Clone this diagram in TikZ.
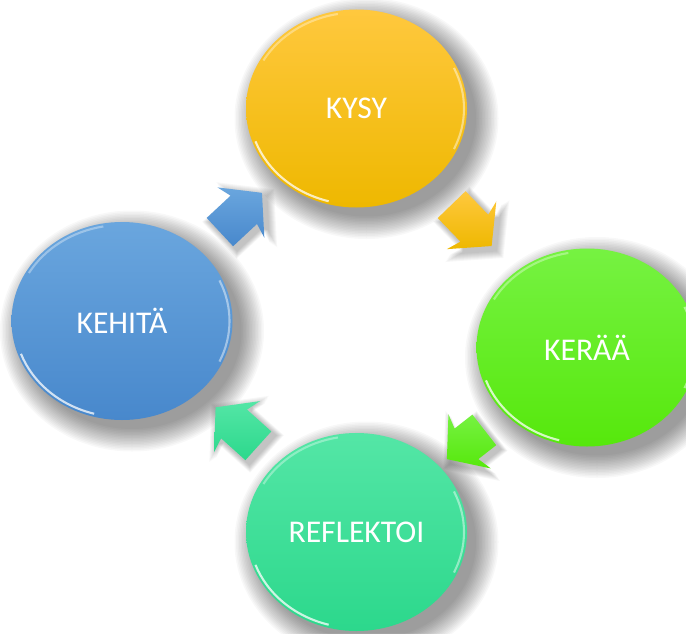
\documentclass[tikz,border=0pt]{standalone}
\usepackage{fontspec}
\setmainfont{Carlito}
\usepackage{xcolor}
\usetikzlibrary{shapes.geometric,shapes.arrows,calc}

\definecolor{kysyTop}{RGB}{255,200,62}
\definecolor{kysyBot}{RGB}{238,184,0}
\definecolor{keraaTop}{RGB}{118,242,66}
\definecolor{keraaBot}{RGB}{86,232,12}
\definecolor{reflTop}{RGB}{84,230,166}
\definecolor{reflBot}{RGB}{44,216,140}
\definecolor{kehitaTop}{RGB}{106,166,222}
\definecolor{kehitaBot}{RGB}{72,136,204}

\pgfdeclarelayer{background}
\pgfsetlayers{background,main}

\begin{document}
\begin{tikzpicture}[
  phase/.style={ellipse, inner sep=0pt, minimum width=4.42cm, minimum height=3.96cm,
    text=white, font=\fontsize{18}{20}\selectfont},
  turn/.style={single arrow, inner xsep=0pt, inner ysep=0.38cm, minimum height=1.15cm,
    minimum width=1.36cm, single arrow head extend=0.3cm, single arrow head indent=0.08cm,
    single arrow tip angle=100},
  rim/.style={white, line width=1.2pt, opacity=0.75}
]
  % Page size
  \useasboundingbox (0,0) rectangle (13.72,12.66);

  % The four phases of the cycle
  \node[phase, top color=kysyTop, bottom color=kysyBot] (kysy) at (7.13,10.49) {KYSY};
  \node[phase, top color=keraaTop, bottom color=keraaBot] (keraa) at (11.74,5.71) {KERÄÄ};
  \node[phase, top color=reflTop, bottom color=reflBot] (reflektoi) at (7.13,2.02) {REFLEKTOI};
  \node[phase, top color=kehitaTop, bottom color=kehitaBot] (kehita) at (2.44,6.24) {KEHITÄ};

  % Light rims on the edges
  \foreach \n in {kysy,keraa,reflektoi,kehita} {
    \draw[rim] ($(\n.center)+(200:2.15 and 1.92)$) arc[start angle=200, end angle=255, x radius=2.15, y radius=1.92];
    \draw[rim, opacity=0.35] ($(\n.center)+(100:2.15 and 1.92)$) arc[start angle=100, end angle=150, x radius=2.15, y radius=1.92];
    \draw[rim, opacity=0.45] ($(\n.center)+(-25:2.15 and 1.92)$) arc[start angle=-25, end angle=25, x radius=2.15, y radius=1.92];
  }

  % Arrows between the phases
  \node[turn, top color=kysyTop, bottom color=kysyBot, rotate=-46] (toKeraa) at (9.32,8.27) {};
  \node[turn, top color=keraaTop, bottom color=keraaBot, rotate=-142, minimum height=0.95cm] (toRefl) at (9.44,3.87) {};
  \node[turn, top color=reflTop, bottom color=reflBot, rotate=138] (toKehita) at (4.86,4.02) {};
  \node[turn, top color=kehitaTop, bottom color=kehitaBot, rotate=43] (toKysy) at (4.70,8.30) {};

  % White page and soft shadows behind everything
  \begin{pgfonlayer}{background}
    \fill[white] (0,0) rectangle (13.72,12.66);
    \foreach \n in {kysy,keraa,reflektoi,kehita}
      \foreach \k in {0,...,15}
        \fill[black, opacity=0.028] ($(\n.center)+(0.2,-0.2)$)
          ellipse[x radius={2.64-\k*0.03}, y radius={2.41-\k*0.03}];
    \foreach \n/\a/\l in {toKeraa/-46/1.15, toRefl/-142/0.95, toKehita/138/1.15, toKysy/43/1.15}
      \foreach \k in {0,...,7}
        \node[turn, minimum height=\l cm, fill=black, opacity=0.03, transform shape,
          rotate=\a, scale={1.3-\k*0.035}] at ($(\n.center)+(0.08,-0.08)$) {};
  \end{pgfonlayer}
\end{tikzpicture}
\end{document}
